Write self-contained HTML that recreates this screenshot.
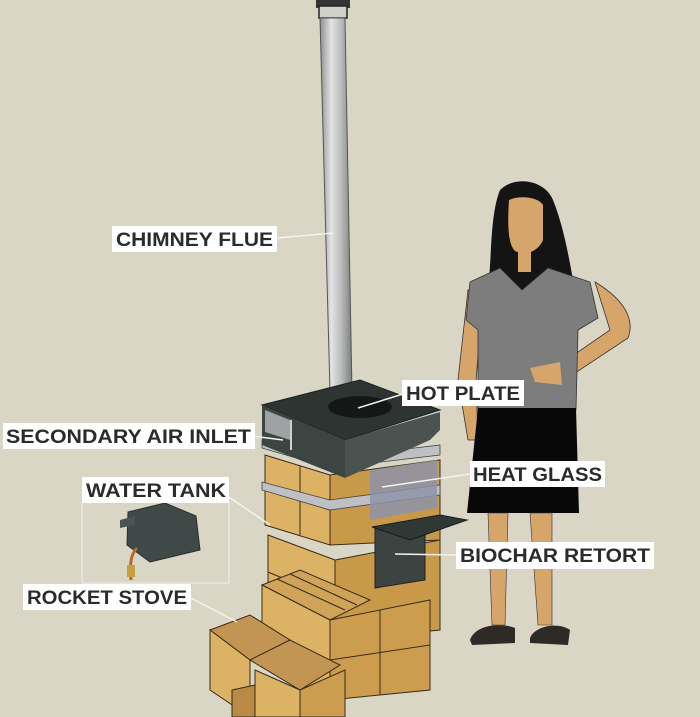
<!DOCTYPE html>
<html><head><meta charset="utf-8"><style>
html,body{margin:0;padding:0;background:#d9d6c6;}
svg{display:block}
text{font-family:"Liberation Sans",sans-serif;font-weight:bold;font-size:19px;fill:#2b2b2b}
</style></head><body>
<svg width="700" height="717" viewBox="0 0 700 717" xmlns="http://www.w3.org/2000/svg">
<defs>
<linearGradient id="pipe" x1="0" x2="1"><stop offset="0" stop-color="#8d8f90"/><stop offset="0.35" stop-color="#e4e4e4"/><stop offset="0.7" stop-color="#b5b6b6"/><stop offset="1" stop-color="#7b7c7c"/></linearGradient>
</defs>
<rect width="700" height="717" fill="#d9d6c6"/>
<!-- chimney -->
<rect x="316" y="0" width="34" height="8" fill="#333"/>
<rect x="319" y="6" width="28" height="12" fill="#cfcfcc" stroke="#222" stroke-width="1.5"/>
<polygon points="320,18 345,18 352,392 330,392" fill="url(#pipe)" stroke="#555" stroke-width="1"/>
<!-- stove bricks lower -->
<g stroke="#3a2a15" stroke-width="1">
<polygon points="265,455 330,475 330,545 265,525" fill="#dcb264"/>
<polygon points="330,475 440,460 440,540 330,545" fill="#c9994a"/>
<line x1="265" y1="490" x2="330" y2="510"/>
<line x1="300" y1="466" x2="300" y2="535"/>
<polygon points="268,535 335,560 335,640 268,610" fill="#dcb264"/>
<polygon points="335,560 440,540 440,630 335,640" fill="#c9994a"/>
<line x1="268" y1="572" x2="335" y2="600"/>
<polygon points="262,585 300,570 370,600 330,620" fill="#d0a458"/>
<line x1="277" y1="579" x2="345" y2="610"/>
<line x1="290" y1="574" x2="357" y2="605"/>
<polygon points="262,585 330,620 330,700 262,665" fill="#dcb264"/>
<polygon points="330,620 430,600 430,690 330,700" fill="#cc9d4e"/>
<line x1="330" y1="660" x2="430" y2="645"/>
<line x1="380" y1="610" x2="380" y2="695"/>
<polygon points="210,630 250,615 290,640 250,660" fill="#c29552"/>
<polygon points="210,630 250,660 250,717 210,690" fill="#dcb264"/>
<polygon points="250,660 290,640 340,665 300,690" fill="#c29552"/>
<polygon points="255,670 300,690 300,717 255,717" fill="#dcb264"/>
<polygon points="300,690 345,670 345,717 300,717" fill="#cc9d4e"/>
<polygon points="232,690 255,685 255,717 232,717" fill="#b88a45"/>
</g>
<!-- grey bands -->
<polygon points="262,448 330,468 440,455 440,445 330,458 262,440" fill="#bfc0c3" stroke="#444" stroke-width="0.8"/>
<polygon points="262,490 330,510 440,495 440,485 330,500 262,482" fill="#bfc0c3" stroke="#444" stroke-width="0.8"/>
<!-- glass window -->
<polygon points="370,470 437,460 437,508 370,520" fill="#8d93a8" opacity="0.85"/>
<!-- retort -->
<polygon points="375,528 425,520 425,580 375,588" fill="#3b4440" stroke="#222"/>
<polygon points="372,527 440,515 467,520 410,540" fill="#2f3835" stroke="#1a1a1a"/>
<!-- hot plate top -->
<polygon points="262,405 360,380 440,410 345,440" fill="#2d3432" stroke="#1b1f1e"/>
<polygon points="262,405 345,440 345,478 262,445" fill="#3c4542"/>
<polygon points="345,440 440,412 440,430 430,440 345,478" fill="#4a5350"/>
<polygon points="265,410 290,420 290,440 265,432" fill="#9fa2a4"/>
<line x1="291" y1="420" x2="291" y2="450" stroke="#fff" stroke-width="1.5"/>
<ellipse cx="360" cy="407" rx="32" ry="11" fill="#141716"/>
<!-- water tank -->
<rect x="82" y="502" width="147" height="81" fill="none" stroke="#f3f2ec" stroke-width="1"/>
<polygon points="128,512 165,503 196,516 200,550 150,562 127,545" fill="#3f4947" stroke="#2a2f2e"/>
<polygon points="120,520 135,516 135,525 120,528" fill="#4a5452"/>
<path d="M137,548 C130,555 130,565 131,580" stroke="#b06a2e" stroke-width="3" fill="none"/>
<rect x="127" y="565" width="8" height="12" fill="#c9a040"/>
<!-- woman -->
<path d="M500,190 C515,175 545,180 553,200 C565,230 570,265 575,290 L488,290 C492,255 490,215 500,190 Z" fill="#141414"/>
<path d="M509,200 C520,195 538,197 543,205 L543,240 C538,252 525,256 515,251 C509,245 507,230 509,200 Z" fill="#d6a56a"/>
<rect x="518" y="250" width="13" height="22" fill="#d6a56a"/>
<path d="M595,282 C625,300 635,320 628,338 L560,383 L552,370 L610,330 Z" fill="#d6a56a" stroke="#333" stroke-width="0.8"/>
<path d="M468,290 L458,380 L468,440 L478,440 L476,380 L482,310 Z" fill="#d6a56a" stroke="#333" stroke-width="0.8"/>
<path d="M470,282 L500,268 L522,290 L548,268 L590,282 L598,318 L578,330 L576,410 L478,410 L478,330 L466,320 Z" fill="#7d7d7d" stroke="#333" stroke-width="0.8"/>
<path d="M530,368 L560,362 L562,385 L535,382 Z" fill="#d6a56a"/>
<path d="M478,408 L576,408 L579,513 L467,513 Z" fill="#080808"/>
<path d="M488,513 L508,513 L505,625 L492,625 Z M530,513 L552,513 L552,625 L538,625 Z" fill="#d6a56a" stroke="#333" stroke-width="0.6"/>
<path d="M470,640 C475,625 500,622 515,628 L515,643 L472,645 Z" fill="#2e2a25"/>
<path d="M530,638 C535,625 560,622 570,630 L568,645 L530,643 Z" fill="#2e2a25"/>
<!-- leader lines -->
<g stroke="#f4f3ee" stroke-width="1.5" fill="none">
<line x1="277" y1="238" x2="333" y2="233"/>
<line x1="403" y1="394" x2="358" y2="408"/>
<line x1="252" y1="436" x2="283" y2="440"/>
<line x1="470" y1="474" x2="382" y2="487"/>
<line x1="229" y1="497" x2="270" y2="525"/>
<line x1="456" y1="555" x2="395" y2="554"/>
<line x1="191" y1="598" x2="237" y2="622"/>
</g>
<g fill="#fff">
<rect x="112" y="226" width="165" height="26"/>
<rect x="402" y="380" width="122" height="26"/>
<rect x="3" y="423" width="252" height="26"/>
<rect x="470" y="461" width="135" height="26"/>
<rect x="82" y="477" width="147" height="26"/>
<rect x="456" y="542" width="198" height="27"/>
<rect x="23" y="584" width="168" height="26"/>
</g>
<text x="116" y="246" textLength="157" lengthAdjust="spacingAndGlyphs">CHIMNEY FLUE</text>
<text x="406" y="400" textLength="114" lengthAdjust="spacingAndGlyphs">HOT PLATE</text>
<text x="6" y="443" textLength="245" lengthAdjust="spacingAndGlyphs">SECONDARY AIR INLET</text>
<text x="473" y="481" textLength="129" lengthAdjust="spacingAndGlyphs">HEAT GLASS</text>
<text x="86" y="497" textLength="140" lengthAdjust="spacingAndGlyphs">WATER TANK</text>
<text x="460" y="562" textLength="190" lengthAdjust="spacingAndGlyphs">BIOCHAR RETORT</text>
<text x="27" y="604" textLength="160" lengthAdjust="spacingAndGlyphs">ROCKET STOVE</text>
</svg>
</body></html>
